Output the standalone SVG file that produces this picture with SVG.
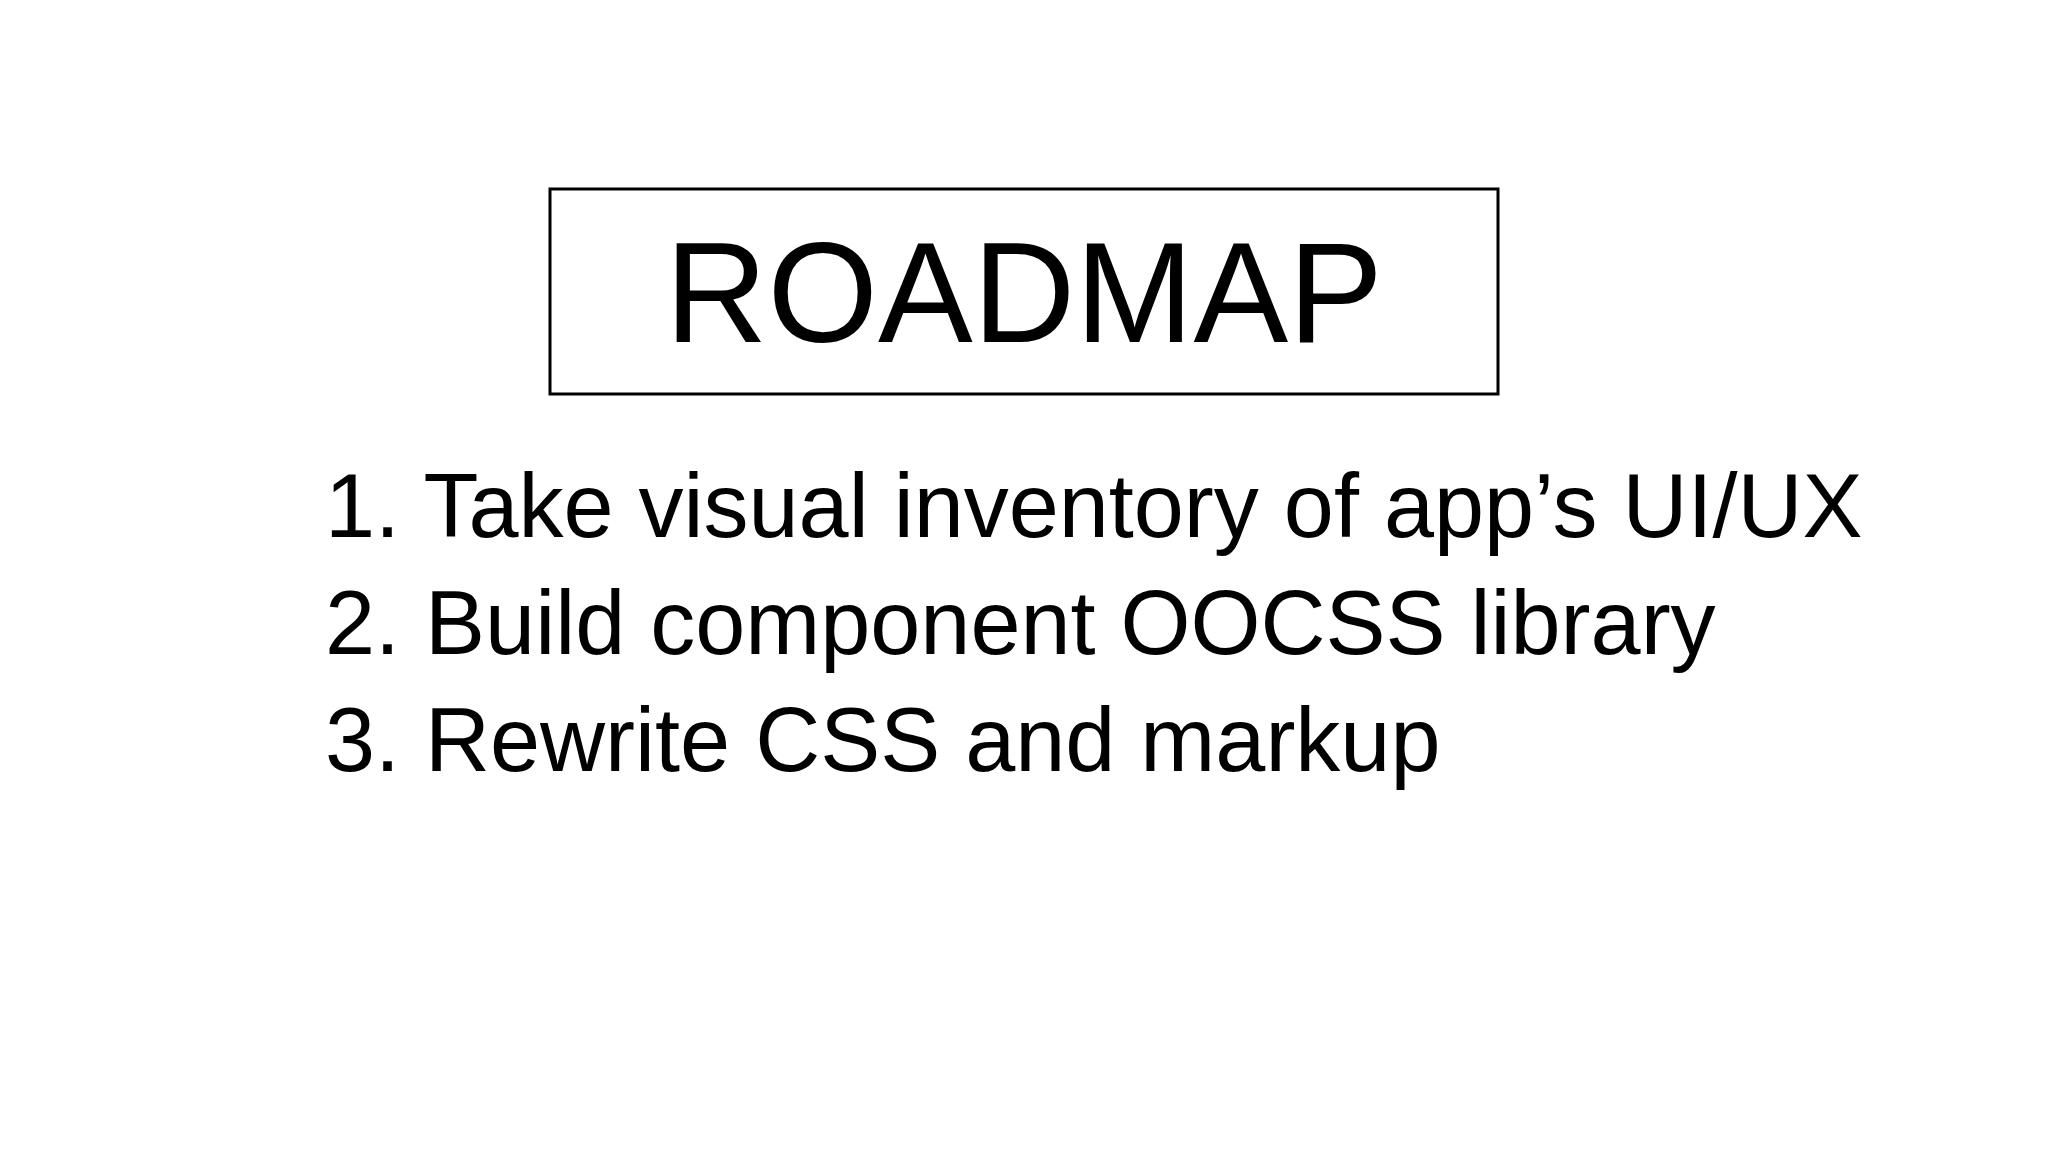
<svg xmlns="http://www.w3.org/2000/svg" width="2048" height="1152" viewBox="0 0 2048 1152">
<style>
text{font-family:"Liberation Sans",Arial,sans-serif;fill:#000}
.item{font-size:90px}
</style>
<rect width="2048" height="1152" fill="#fff"/>
<g id="title">
<rect x="550" y="189" width="948" height="205" fill="none" stroke="#000" stroke-width="3"/>
<text x="1024" y="342" font-size="142" text-anchor="middle">ROADMAP</text>
</g>
<g id="list">
<text class="item" x="325" y="537">1. Take visual inventory of app’s UI/UX</text>
<text class="item" x="325" y="654">2. Build component OOCSS library</text>
<text class="item" x="325" y="771">3. Rewrite CSS and markup</text>
</g>
</svg>
